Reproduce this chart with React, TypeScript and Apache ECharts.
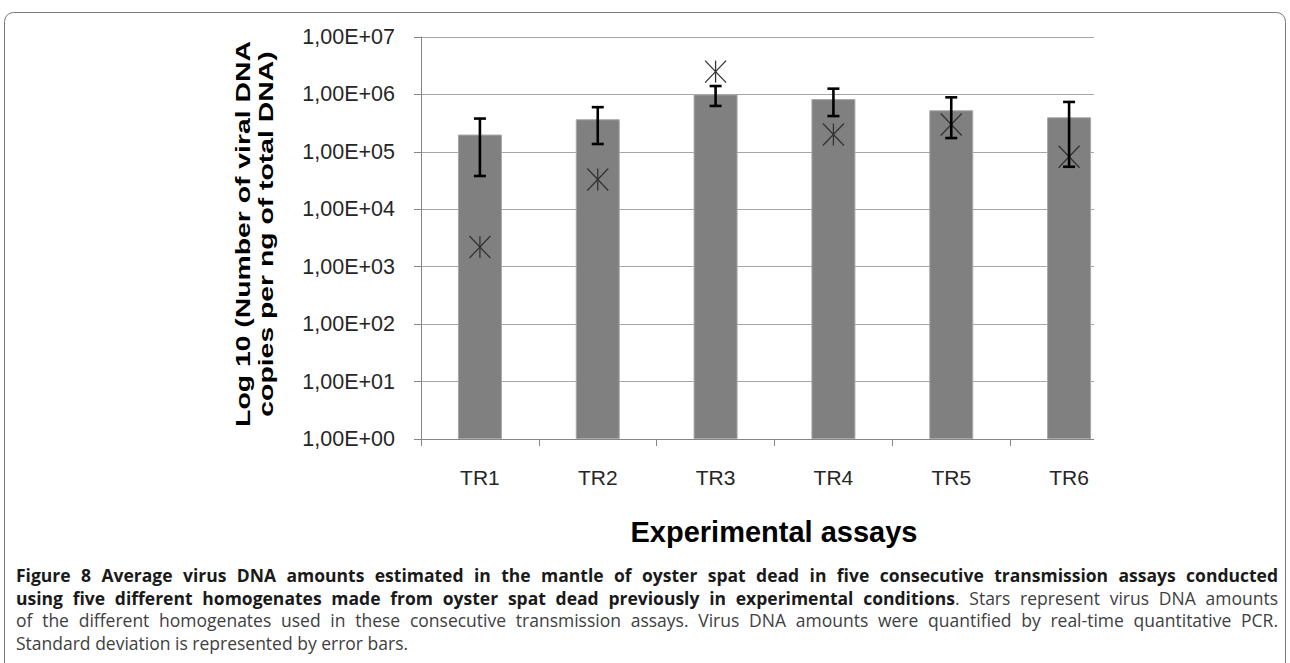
import React, { useEffect, useRef } from "react";
import * as echarts from "echarts";

// ---------- data ----------
const categories = ["TR1", "TR2", "TR3", "TR4", "TR5", "TR6"];
const meanCopies = [2.0e5, 3.7e5, 1.0e6, 8.3e5, 5.3e5, 4.0e5];
const errorLow = [3.8e4, 1.37e5, 6.3e5, 4.2e5, 1.74e5, 5.5e4];
const errorHigh = [3.8e5, 6.0e5, 1.4e6, 1.26e6, 8.9e5, 7.4e5];
const homogenateCopies = [2.2e3, 3.3e4, 2.5e6, 2.0e5, 3.0e5, 8.2e4];
const yMin = 1;
const yMax = 1e7;
const xAxisTitle = "Experimental assays";
const yAxisTitleLines = ["Log 10 (Number of viral DNA", "copies per ng of total DNA)"];

type Run = { text: string; bold: boolean };
const captionLines: { runs: Run[]; justify: boolean }[] = [
  {
    runs: [
      {
        text:
          "Figure 8 Average virus DNA amounts estimated in the mantle of oyster spat dead in five consecutive transmission assays conducted",
        bold: true,
      },
    ],
    justify: true,
  },
  {
    runs: [
      {
        text:
          "using five different homogenates made from oyster spat dead previously in experimental conditions",
        bold: true,
      },
      { text: ". Stars represent virus DNA amounts", bold: false },
    ],
    justify: true,
  },
  {
    runs: [
      {
        text:
          "of the different homogenates used in these consecutive transmission assays. Virus DNA amounts were quantified by real-time quantitative PCR.",
        bold: false,
      },
    ],
    justify: true,
  },
  {
    runs: [{ text: "Standard deviation is represented by error bars.", bold: false }],
    justify: false,
  },
];

// ---------- helpers ----------
const CAPTION_FONT = '"Open Sans"';
const CAPTION_MAX_SIZE = 17.5;
const CAPTION_LEFT = 16;
const CAPTION_RIGHT = 1278;
const CAPTION_Y0 = 575;
const CAPTION_DY = 22.5;

function buildWords(runs: Run[]): Run[][] {
  const words: Run[][] = [];
  runs.forEach((seg, si) => {
    const parts = seg.text.split(" ");
    parts.forEach((p, pi) => {
      if (p === "") return;
      if (pi === 0 && si > 0 && !seg.text.startsWith(" ") && words.length) {
        words[words.length - 1].push({ text: p, bold: seg.bold });
      } else {
        words.push([{ text: p, bold: seg.bold }]);
      }
    });
  });
  return words;
}

function captionGraphics(): any[] {
  const canvas = document.createElement("canvas");
  const ctx = canvas.getContext("2d")!;
  const measureAt = (r: Run, size: number) => {
    ctx.font = `${r.bold ? "bold" : "normal"} ${size}px ${CAPTION_FONT}`;
    return ctx.measureText(r.text).width;
  };
  const avail = CAPTION_RIGHT - CAPTION_LEFT;
  let size = CAPTION_MAX_SIZE;
  captionLines.forEach((line) => {
    const words = buildWords(line.runs);
    const natural = (s: number) => {
      ctx.font = `normal ${s}px ${CAPTION_FONT}`;
      const sp = ctx.measureText(" ").width * 0.85;
      return (
        words.reduce((acc, w) => acc + w.reduce((a, r) => a + measureAt(r, s), 0), 0) +
        sp * (words.length - 1)
      );
    };
    const n = natural(size);
    if (n > avail) size = size * (avail / n);
  });
  ctx.font = `normal ${size}px ${CAPTION_FONT}`;
  const spaceW = ctx.measureText(" ").width;
  const els: any[] = [];
  captionLines.forEach((line, li) => {
    const words = buildWords(line.runs);
    const widths = words.map((w) => w.reduce((s, r) => s + measureAt(r, size), 0));
    const total = widths.reduce((a, b) => a + b, 0);
    const gap = line.justify ? (avail - total) / (words.length - 1) : spaceW;
    let x = CAPTION_LEFT;
    const y = CAPTION_Y0 + li * CAPTION_DY;
    words.forEach((w, wi) => {
      let rx = x;
      w.forEach((r) => {
        els.push({
          type: "text",
          x: rx,
          y,
          silent: true,
          style: {
            text: r.text,
            fontFamily: CAPTION_FONT,
            fontSize: size,
            lineHeight: 20,
            fontWeight: r.bold ? "bold" : "normal",
            fill: r.bold ? "#1a1a1a" : "#404040",
            align: "left",
            verticalAlign: "middle",
          },
        });
        rx += measureAt(r, size);
      });
      x += widths[wi] + gap;
    });
  });
  return els;
}

function formatExp(v: number): string {
  const e = Math.round(Math.log10(v));
  return "1,00E+" + String(e).padStart(2, "0");
}

export default function App() {
  const ref = useRef<HTMLDivElement>(null);
  useEffect(() => {
    if (!ref.current) return;
    const chart = echarts.init(ref.current, undefined, { renderer: "svg" });
    const axisGrey = "#868686";
    const option: any = {
      animation: false,
      backgroundColor: "#ffffff",
      grid: { left: 421, right: 162, top: 37, bottom: 224, containLabel: false },
      xAxis: {
        type: "category",
        data: categories,
        axisLine: { show: true, lineStyle: { color: axisGrey, width: 1 } },
        axisTick: { show: true, length: 7, lineStyle: { color: axisGrey } },
        axisLabel: {
          fontSize: 21,
          fontFamily: "Liberation Sans",
          color: "#262626",
          margin: 28,
        },
        splitLine: { show: false },
      },
      yAxis: {
        type: "log",
        logBase: 10,
        min: yMin,
        max: yMax,
        splitNumber: 7,
        axisLine: { show: true, lineStyle: { color: axisGrey, width: 1 } },
        axisTick: { show: true, length: 7, lineStyle: { color: axisGrey } },
        minorTick: { show: false },
        axisLabel: {
          fontSize: 21.5,
          fontFamily: "Liberation Sans",
          color: "#262626",
          margin: 26,
          formatter: formatExp,
        },
        splitLine: { show: true, lineStyle: { color: "#a6a6a6", width: 1.2 } },
      },
      series: [
        {
          type: "bar",
          z: 2,
          data: meanCopies,
          barWidth: 44,
          itemStyle: { color: "#808080", borderColor: "#a8a8a8", borderWidth: 1 },
          silent: true,
        },
        {
          type: "custom",
          z: 5,
          data: categories.map((_, i) => [i, homogenateCopies[i]]),
          encode: { x: 0, y: 1 },
          silent: true,
          renderItem: (params: any, api: any) => {
            const p = api.coord([api.value(0), api.value(1)]);
            const hw = 10.5;
            const hh = 11;
            const st = { stroke: "#333333", lineWidth: 1.3 };
            return {
              type: "group",
              children: [
                { type: "line", shape: { x1: p[0] - hw, y1: p[1] - hh, x2: p[0] + hw, y2: p[1] + hh }, style: st },
                { type: "line", shape: { x1: p[0] - hw, y1: p[1] + hh, x2: p[0] + hw, y2: p[1] - hh }, style: st },
                { type: "line", shape: { x1: p[0], y1: p[1] - hh, x2: p[0], y2: p[1] + hh }, style: st },
              ],
            };
          },
        },
        {
          type: "custom",
          z: 6,
          data: categories.map((_, i) => [i, errorLow[i], errorHigh[i]]),
          encode: { x: 0, y: [1, 2] },
          silent: true,
          renderItem: (params: any, api: any) => {
            const lo = api.coord([api.value(0), api.value(1)]);
            const hi = api.coord([api.value(0), api.value(2)]);
            const cap = 6;
            const st = { stroke: "#000000", lineWidth: 2.6 };
            return {
              type: "group",
              children: [
                { type: "line", shape: { x1: lo[0], y1: lo[1], x2: hi[0], y2: hi[1] }, style: st },
                { type: "line", shape: { x1: hi[0] - cap, y1: hi[1], x2: hi[0] + cap, y2: hi[1] }, style: st },
                { type: "line", shape: { x1: lo[0] - cap, y1: lo[1], x2: lo[0] + cap, y2: lo[1] }, style: st },
              ],
            };
          },
        },
      ],
      graphic: [
        // chart image is cropped on its right side
        {
          type: "rect",
          z: 100,
          silent: true,
          shape: { x: 1094, y: 25, width: 45, height: 425 },
          style: { fill: "#ffffff" },
        },
        // frame
        {
          type: "rect",
          z: 101,
          silent: true,
          shape: { x: 4.5, y: 12.5, width: 1281, height: 700, r: 9 },
          style: { fill: "none", stroke: "#7a7a7a", lineWidth: 1 },
        },
        {
          type: "text",
          z: 101,
          x: 774,
          y: 532,
          silent: true,
          style: {
            text: xAxisTitle,
            fontFamily: "Liberation Sans",
            fontSize: 29,
            fontWeight: "bold",
            fill: "#000000",
            align: "center",
            verticalAlign: "middle",
          },
        },
        ...yAxisTitleLines.map((t, i) => ({
          type: "text",
          z: 101,
          x: 242 + i * 23,
          y: 234,
          rotation: Math.PI / 2,
          scaleX: 1.35,
          silent: true,
          style: {
            text: t,
            fontFamily: "Liberation Sans",
            fontSize: 21,
            fontWeight: "bold",
            fill: "#000000",
            align: "center",
            verticalAlign: "middle",
          },
        })),
        ...captionGraphics().map((e) => ({ ...e, z: 101 })),
      ],
    };
    chart.setOption(option);
    return () => chart.dispose();
  }, []);
  return (
    <div
      ref={ref}
      style={{ position: "absolute", left: 0, top: 0, width: 1290, height: 663 }}
    />
  );
}
